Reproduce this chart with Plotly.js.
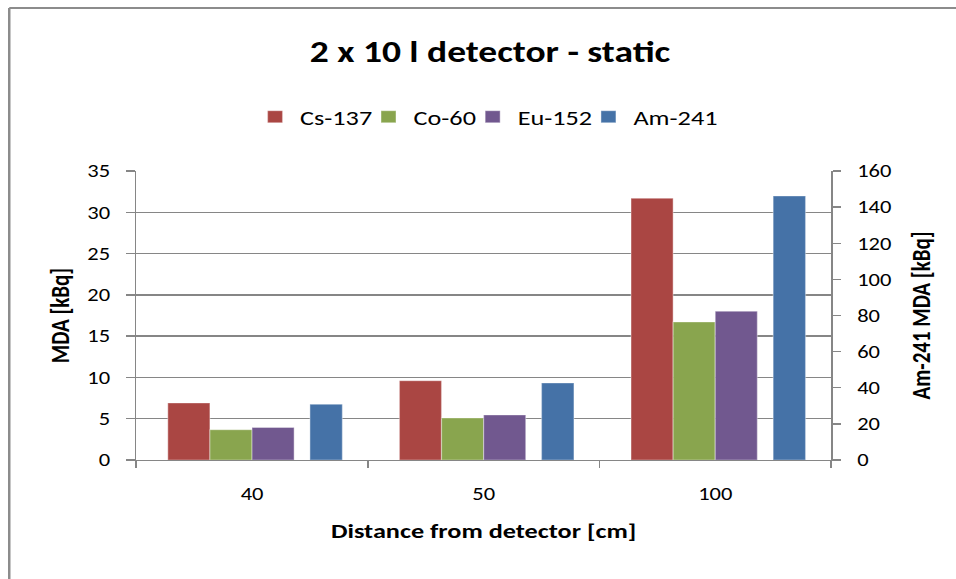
<!DOCTYPE html>
<html>
<head>
<meta charset="utf-8">
<script src="https://cdn.plot.ly/plotly-3.0.1.min.js"></script>
<style>
  html, body { margin: 0; padding: 0; background: #fff; overflow: hidden; }
  #wrap { width: 956px; height: 579px; overflow: hidden; }
  #chart { width: 765px; height: 579px; transform-origin: 0 0; }
</style>
</head>
<body>
<div id="wrap"><div id="chart"></div></div>
<script>
// ---- data ----
const distances = ["40", "50", "100"];
const cs137 = [6.9, 9.6, 31.7];
const co60 = [3.65, 5.1, 16.7];
const eu152 = [3.95, 5.45, 18.0];
const am241 = [30.8, 42.6, 146.2];   // secondary axis
const seriesNames = ["Cs-137", "Co-60", "Eu-152", "Am-241"];
const colors = ["#AA4643", "#89A54E", "#71588F", "#4572A7"];

// The reference is a horizontally stretched Excel chart: render narrower, then stretch.
const W = 765, H = 579, S = 956 / W;
document.getElementById("chart").style.transform = "scaleX(" + S + ")";

const FONT = "Carlito, Calibri, Lato, 'Open Sans', sans-serif";
const GRID = "#868686";
const slot = 1 / 5.5;

function bar(name, y, color, offset, width, yaxis) {
  return {
    type: "bar", name: name, x: distances, y: y,
    offset: offset, width: width, yaxis: yaxis,
    marker: { color: color, line: { color: "rgba(255,255,255,0.35)", width: 1 } },
    hoverinfo: "x+y+name"
  };
}

const data = [
  bar(seriesNames[0], cs137, colors[0], -2 * slot, slot, "y"),
  bar(seriesNames[1], co60, colors[1], -1 * slot, slot, "y"),
  bar(seriesNames[2], eu152, colors[2], 0, slot, "y"),
  bar(seriesNames[3], am241, colors[3], 0.25, 0.14, "y2")
];

const L = 136 / S, R = 125 / S;
const layout = {
  width: W, height: H,
  paper_bgcolor: "#fff", plot_bgcolor: "#fff",
  margin: { l: L, r: R, t: 171, b: 119, pad: 0 },
  font: { family: FONT, size: 18, color: "#000" },
  barmode: "overlay",
  showlegend: true,
  title: {
    text: "<b>2 x 10 l detector - static</b>",
    font: { family: FONT, size: 30, color: "#000" },
    x: 490 / 956, xref: "container", xanchor: "center",
    y: 1 - 52 / 579, yref: "container", yanchor: "middle"
  },
  legend: {
    orientation: "h",
    x: 495 / 956, xref: "container", xanchor: "center",
    y: 1 - 117 / 579, yref: "container", yanchor: "middle",
    font: { family: FONT, size: 21, color: "#000" },
    itemwidth: 30,
    indentation: -12,
    traceorder: "normal"
  },
  xaxis: {
    type: "category",
    range: [-0.5, 2.5],
    tickson: "boundaries",
    ticks: "outside", ticklen: 7, tickcolor: GRID, tickwidth: 1.3,
    showline: true, linecolor: GRID, linewidth: 1.3,
    showgrid: false, zeroline: false,
    tickfont: { family: FONT, size: 18 },
    ticklabelstandoff: 17,
    title: { text: "<b>Distance from detector [cm]</b>", font: { family: FONT, size: 21 }, standoff: 19 }
  },
  yaxis: {
    range: [0, 35], dtick: 5, tick0: 0,
    ticks: "outside", ticklen: 7, tickcolor: GRID, tickwidth: 1.3,
    showline: true, linecolor: GRID, linewidth: 1.3,
    showgrid: true, gridcolor: GRID, gridwidth: 1.3,
    zeroline: false,
    tickfont: { family: FONT, size: 18 },
    ticklabelstandoff: 9,
    title: { text: "<b>MDA [kBq]</b>", font: { family: FONT, size: 21 }, standoff: 8 }
  },
  yaxis2: {
    overlaying: "y", side: "right",
    range: [0, 160], dtick: 20, tick0: 0,
    ticks: "outside", ticklen: 7, tickcolor: GRID, tickwidth: 1.3,
    showline: true, linecolor: GRID, linewidth: 1.3,
    showgrid: false, zeroline: false,
    tickfont: { family: FONT, size: 18 },
    ticklabelstandoff: 9,
    title: { text: "<b>Am-241 MDA [kBq]</b>", font: { family: FONT, size: 21 }, standoff: 17 }
  },
  shapes: [
    { type: "line", xref: "paper", yref: "paper",
      x0: (9 - 136) / 695, x1: 1.3, y0: 1 + (171 - 8) / 289, y1: 1 + (171 - 8) / 289,
      line: { color: "#8c8c8c", width: 2 } },
    { type: "line", xref: "paper", yref: "paper",
      x0: (9 - 136) / 695, x1: (9 - 136) / 695, y0: 1 + (171 - 8) / 289, y1: -1,
      line: { color: "#8c8c8c", width: 2 } }
  ]
};

Plotly.newPlot("chart", data, layout, { displayModeBar: false, staticPlot: true });
</script>
</body>
</html>
